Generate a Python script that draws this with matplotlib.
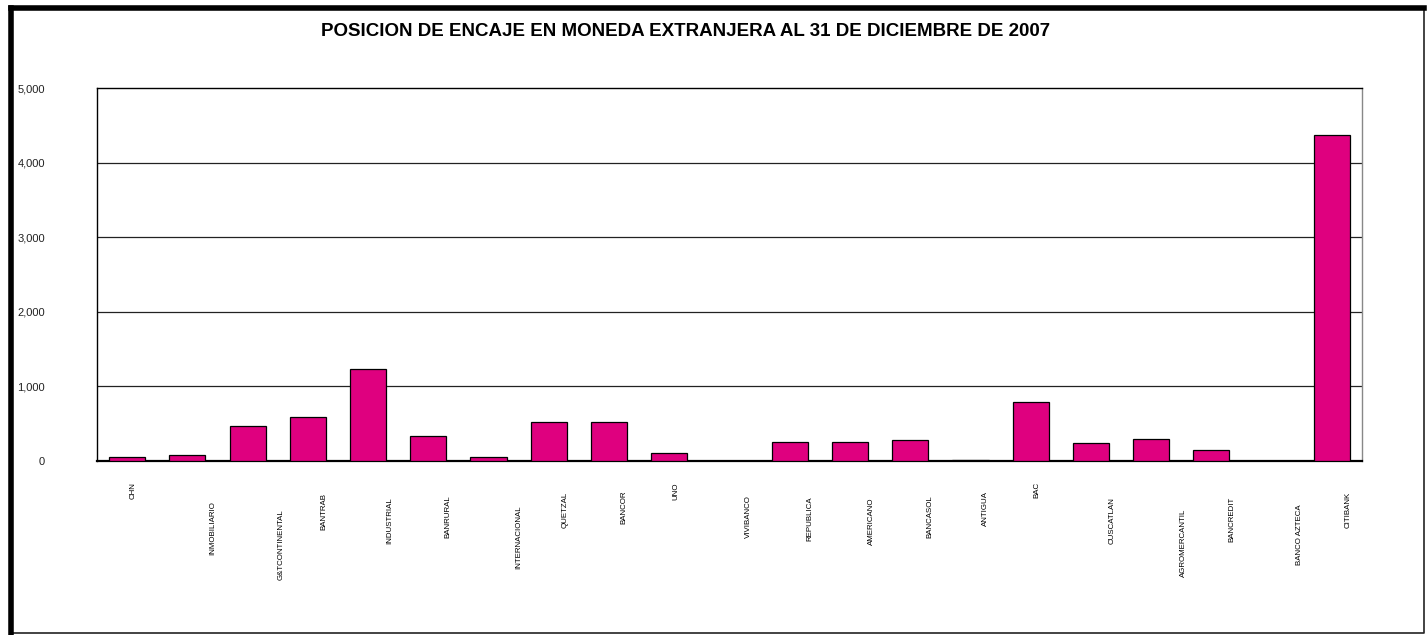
import numpy as np
import matplotlib.pyplot as plt
from matplotlib.lines import Line2D

plt.rcParams['font.family'] = ['Liberation Sans', 'DejaVu Sans']

# Bancos y posicion de encaje (millones)
bancos = ['CHN', 'INMOBILIARIO', 'G&TCONTINENTAL', 'BANTRAB', 'INDUSTRIAL',
          'BANRURAL', 'INTERNACIONAL', 'QUETZAL', 'BANCOR', 'UNO',
          'VIVIBANCO', 'REPUBLICA', 'AMERICANO', 'BANCASOL', 'ANTIGUA',
          'BAC', 'CUSCATLAN', 'AGROMERCANTIL', 'BANCREDIT', 'BANCO AZTECA',
          'CITIBANK']
encaje = [50, 80, 473, 590, 1230,
          338, 50, 527, 525, 108,
          5, 257, 255, 284, 15,
          788, 239, 293, 145, 3,
          4370]
y_ticks = [0, 1000, 2000, 3000, 4000, 5000]

W, H = 1427, 635
fig = plt.figure(figsize=(W / 100, H / 100), dpi=100)
fig.patch.set_facecolor('white')

ax = fig.add_axes([97 / W, 1 - 461 / H, (1362 - 97) / W, (461 - 88) / H])
x = np.arange(len(bancos))
ax.bar(x, encaje, width=0.6, color='#DF007F', edgecolor='black', linewidth=0.9, zorder=3)

ax.set_xlim(-0.5, len(bancos) - 0.5)
ax.set_ylim(0, 5000)
ax.set_yticks(y_ticks)
ax.set_yticklabels([f'{v:,}' for v in y_ticks], fontsize=8, color='#222222')
# pad en puntos: etiquetas terminan ~52 px a la izquierda del area
ax.tick_params(axis='y', length=0, pad=52 * 0.72)
ax.set_xticks([])
for t in y_ticks[1:-1]:
    ax.axhline(t, color='#222222', lw=0.9, zorder=1)

ax.spines['top'].set_color('black')
ax.spines['left'].set_color('black')
ax.spines['right'].set_color('#888888')
ax.spines['bottom'].set_linewidth(1.6)
for s in ['top', 'left', 'right']:
    ax.spines[s].set_linewidth(1.0)

# etiquetas verticales de los bancos (escalonadas como en Excel)
etiquetas = []
for i, b in enumerate(bancos):
    t = ax.annotate(b, xy=(i, 0), xycoords=('data', 'axes fraction'),
                    xytext=(0, -22), textcoords='offset pixels',
                    rotation=90, ha='center', va='top', fontsize=5.7)
    etiquetas.append(t)
fig.canvas.draw()
r = fig.canvas.get_renderer()
for t in etiquetas:
    h = t.get_window_extent(r).height
    t.xyann = (h / 2 - 2, -(13 + h / 2))

fig.text(686 / W, 1 - 31 / H,
         'POSICION DE ENCAJE EN MONEDA EXTRANJERA AL 31 DE DICIEMBRE DE 2007',
         ha='center', va='center', fontsize=13.5, fontweight='bold')

# marco exterior del grafico
def px(xp, yp):
    return xp / W, 1 - yp / H

x0, y0 = px(11, 8)
x1, y1 = px(1424, 633)
fig.add_artist(Line2D([x0, x1, x1, x0], [y0, y0, y1, y1], color='#222222', lw=1.2,
                      transform=fig.transFigure))
fig.add_artist(Line2D([x0, x1], [y0, y0], color='black', lw=4, transform=fig.transFigure))
fig.add_artist(Line2D([x0, x0], [y0, y1], color='black', lw=4, transform=fig.transFigure))

fig.savefig('out.png', dpi=100)
